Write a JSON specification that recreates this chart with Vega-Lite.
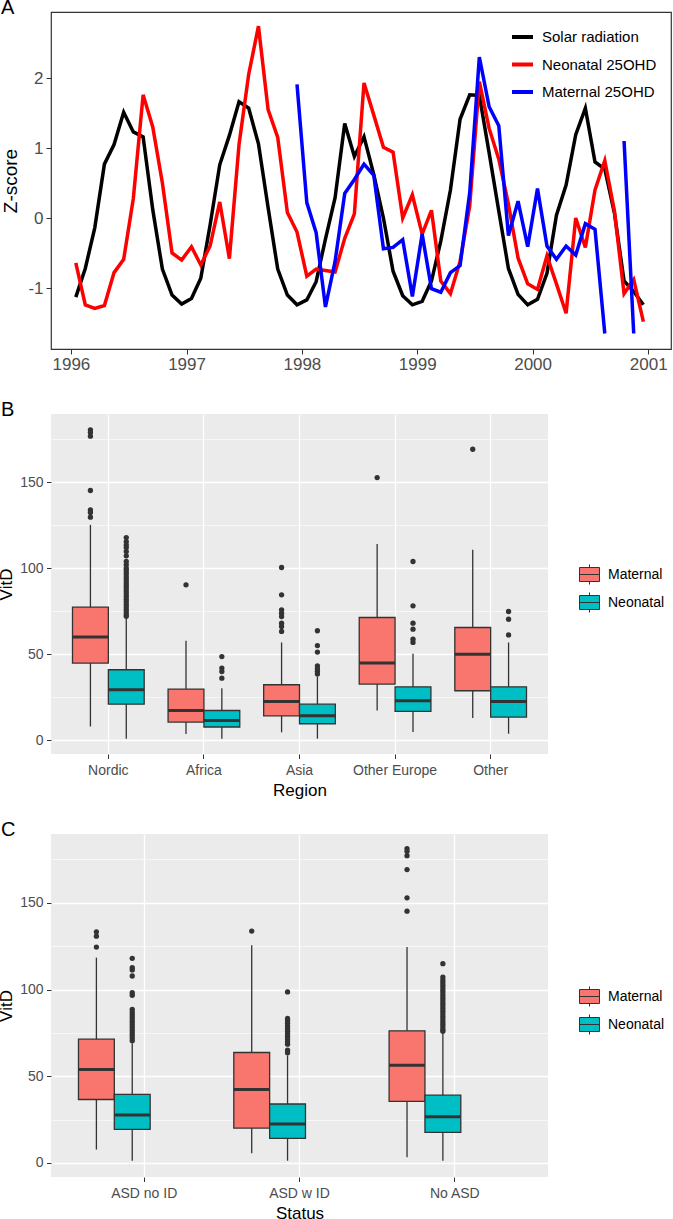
{
"$schema": "https://vega.github.io/schema/vega-lite/v6.json",
"padding": {"left": -3, "top": -3, "right": 0, "bottom": 0},
"spacing": 21,
"config": {
  "font": "Liberation Sans",
  "title": {"fontSize": 20, "fontWeight": "normal", "color": "#000000", "anchor": "start", "frame": "group"},
  "axis": {"labelColor": "#4D4D4D", "tickColor": "#333333", "titleColor": "#000000", "titleFontWeight": "normal", "domain": false}
},
"resolve": {"scale": {"color": "independent", "fill": "independent"}},
"datasets": {
  "A": [
    {"month":"1996-01","Solar radiation":-1.13,"Neonatal 25OHD":-0.64},
    {"month":"1996-02","Solar radiation":-0.72,"Neonatal 25OHD":-1.24},
    {"month":"1996-03","Solar radiation":-0.14,"Neonatal 25OHD":-1.29},
    {"month":"1996-04","Solar radiation":0.77,"Neonatal 25OHD":-1.25},
    {"month":"1996-05","Solar radiation":1.05,"Neonatal 25OHD":-0.78},
    {"month":"1996-06","Solar radiation":1.51,"Neonatal 25OHD":-0.59},
    {"month":"1996-07","Solar radiation":1.23,"Neonatal 25OHD":0.28},
    {"month":"1996-08","Solar radiation":1.16,"Neonatal 25OHD":1.76},
    {"month":"1996-09","Solar radiation":0.12,"Neonatal 25OHD":1.30},
    {"month":"1996-10","Solar radiation":-0.73,"Neonatal 25OHD":0.50},
    {"month":"1996-11","Solar radiation":-1.10,"Neonatal 25OHD":-0.50},
    {"month":"1996-12","Solar radiation":-1.23,"Neonatal 25OHD":-0.60},
    {"month":"1997-01","Solar radiation":-1.15,"Neonatal 25OHD":-0.41},
    {"month":"1997-02","Solar radiation":-0.86,"Neonatal 25OHD":-0.67},
    {"month":"1997-03","Solar radiation":-0.10,"Neonatal 25OHD":-0.40},
    {"month":"1997-04","Solar radiation":0.76,"Neonatal 25OHD":0.23},
    {"month":"1997-05","Solar radiation":1.18,"Neonatal 25OHD":-0.58},
    {"month":"1997-06","Solar radiation":1.66,"Neonatal 25OHD":1.05},
    {"month":"1997-07","Solar radiation":1.57,"Neonatal 25OHD":2.05},
    {"month":"1997-08","Solar radiation":1.06,"Neonatal 25OHD":2.74},
    {"month":"1997-09","Solar radiation":0.15,"Neonatal 25OHD":1.55},
    {"month":"1997-10","Solar radiation":-0.73,"Neonatal 25OHD":1.15},
    {"month":"1997-11","Solar radiation":-1.10,"Neonatal 25OHD":0.08},
    {"month":"1997-12","Solar radiation":-1.24,"Neonatal 25OHD":-0.20,"Maternal 25OHD":1.91},
    {"month":"1998-01","Solar radiation":-1.17,"Neonatal 25OHD":-0.83,"Maternal 25OHD":0.22},
    {"month":"1998-02","Solar radiation":-0.91,"Neonatal 25OHD":-0.73,"Maternal 25OHD":-0.21},
    {"month":"1998-03","Solar radiation":-0.30,"Neonatal 25OHD":-0.75,"Maternal 25OHD":-1.27},
    {"month":"1998-04","Solar radiation":0.29,"Neonatal 25OHD":-0.77,"Maternal 25OHD":-0.62},
    {"month":"1998-05","Solar radiation":1.35,"Neonatal 25OHD":-0.29,"Maternal 25OHD":0.35},
    {"month":"1998-06","Solar radiation":0.88,"Neonatal 25OHD":0.06,"Maternal 25OHD":0.55},
    {"month":"1998-07","Solar radiation":1.16,"Neonatal 25OHD":1.93,"Maternal 25OHD":0.77},
    {"month":"1998-08","Solar radiation":0.62,"Neonatal 25OHD":1.47,"Maternal 25OHD":0.61},
    {"month":"1998-09","Solar radiation":0.00,"Neonatal 25OHD":1.01,"Maternal 25OHD":-0.44},
    {"month":"1998-10","Solar radiation":-0.76,"Neonatal 25OHD":0.94,"Maternal 25OHD":-0.42},
    {"month":"1998-11","Solar radiation":-1.11,"Neonatal 25OHD":0.00,"Maternal 25OHD":-0.31},
    {"month":"1998-12","Solar radiation":-1.24,"Neonatal 25OHD":0.33,"Maternal 25OHD":-1.12},
    {"month":"1999-01","Solar radiation":-1.19,"Neonatal 25OHD":-0.23,"Maternal 25OHD":-0.23},
    {"month":"1999-02","Solar radiation":-0.90,"Neonatal 25OHD":0.11,"Maternal 25OHD":-1.01},
    {"month":"1999-03","Solar radiation":-0.33,"Neonatal 25OHD":-0.90,"Maternal 25OHD":-1.06},
    {"month":"1999-04","Solar radiation":0.40,"Neonatal 25OHD":-1.08,"Maternal 25OHD":-0.78},
    {"month":"1999-05","Solar radiation":1.41,"Neonatal 25OHD":-0.62,"Maternal 25OHD":-0.68},
    {"month":"1999-06","Solar radiation":1.76,"Neonatal 25OHD":0.17,"Maternal 25OHD":0.36},
    {"month":"1999-07","Solar radiation":1.75,"Neonatal 25OHD":1.95,"Maternal 25OHD":2.30},
    {"month":"1999-08","Solar radiation":0.93,"Neonatal 25OHD":1.28,"Maternal 25OHD":1.59},
    {"month":"1999-09","Solar radiation":0.10,"Neonatal 25OHD":0.84,"Maternal 25OHD":1.32},
    {"month":"1999-10","Solar radiation":-0.72,"Neonatal 25OHD":0.20,"Maternal 25OHD":-0.25},
    {"month":"1999-11","Solar radiation":-1.09,"Neonatal 25OHD":-0.57,"Maternal 25OHD":0.24},
    {"month":"1999-12","Solar radiation":-1.24,"Neonatal 25OHD":-0.94,"Maternal 25OHD":-0.41},
    {"month":"2000-01","Solar radiation":-1.16,"Neonatal 25OHD":-1.02,"Maternal 25OHD":0.42},
    {"month":"2000-02","Solar radiation":-0.79,"Neonatal 25OHD":-0.54,"Maternal 25OHD":-0.40},
    {"month":"2000-03","Solar radiation":0.04,"Neonatal 25OHD":-0.94,"Maternal 25OHD":-0.59},
    {"month":"2000-04","Solar radiation":0.47,"Neonatal 25OHD":-1.36,"Maternal 25OHD":-0.40},
    {"month":"2000-05","Solar radiation":1.19,"Neonatal 25OHD":0.00,"Maternal 25OHD":-0.53},
    {"month":"2000-06","Solar radiation":1.57,"Neonatal 25OHD":-0.42,"Maternal 25OHD":-0.08},
    {"month":"2000-07","Solar radiation":0.80,"Neonatal 25OHD":0.40,"Maternal 25OHD":-0.16},
    {"month":"2000-08","Solar radiation":0.70,"Neonatal 25OHD":0.82,"Maternal 25OHD":-1.65},
    {"month":"2000-09","Solar radiation":0.07,"Neonatal 25OHD":0.10,"Maternal 25OHD":null},
    {"month":"2000-10","Solar radiation":-0.90,"Neonatal 25OHD":-1.08,"Maternal 25OHD":1.10},
    {"month":"2000-11","Solar radiation":-1.05,"Neonatal 25OHD":-0.88,"Maternal 25OHD":-1.65},
    {"month":"2000-12","Solar radiation":-1.24,"Neonatal 25OHD":-1.48,"Maternal 25OHD":null}
  ],
  "Bstats": [
    {"group":"Nordic","type":"Maternal","lower":7.9,"q1":44.8,"median":59.9,"q3":77.3,"upper":125.2},
    {"group":"Nordic","type":"Neonatal","lower":0.8,"q1":20.9,"median":29.3,"q3":40.9,"upper":71.0},
    {"group":"Africa","type":"Maternal","lower":3.5,"q1":10.5,"median":17.2,"q3":29.7,"upper":57.8},
    {"group":"Africa","type":"Neonatal","lower":0.8,"q1":7.6,"median":11.4,"q3":17.2,"upper":30.2},
    {"group":"Asia","type":"Maternal","lower":4.5,"q1":14.1,"median":22.5,"q3":32.2,"upper":56.8},
    {"group":"Asia","type":"Neonatal","lower":0.8,"q1":9.5,"median":14.1,"q3":20.9,"upper":37.0},
    {"group":"Other Europe","type":"Maternal","lower":17.2,"q1":32.6,"median":44.8,"q3":71.3,"upper":114.1},
    {"group":"Other Europe","type":"Neonatal","lower":4.7,"q1":16.7,"median":22.9,"q3":31.0,"upper":50.2},
    {"group":"Other","type":"Maternal","lower":12.8,"q1":28.7,"median":50.0,"q3":65.5,"upper":110.7},
    {"group":"Other","type":"Neonatal","lower":3.7,"q1":13.4,"median":22.5,"q3":31.0,"upper":56.8}
  ],
  "Bout": [
    {"group":"Nordic","type":"Maternal","value":180.5},{"group":"Nordic","type":"Maternal","value":179.0},{"group":"Nordic","type":"Maternal","value":176.8},{"group":"Nordic","type":"Maternal","value":145.2},{"group":"Nordic","type":"Maternal","value":133.9},{"group":"Nordic","type":"Maternal","value":132.4},{"group":"Nordic","type":"Maternal","value":129.7},
    {"group":"Nordic","type":"Neonatal","value":117.8},{"group":"Nordic","type":"Neonatal","value":115.5},{"group":"Nordic","type":"Neonatal","value":113.6},{"group":"Nordic","type":"Neonatal","value":112.0},{"group":"Nordic","type":"Neonatal","value":109.7},{"group":"Nordic","type":"Neonatal","value":107.2},{"group":"Nordic","type":"Neonatal","value":104.0},{"group":"Nordic","type":"Neonatal","value":102.0},{"group":"Nordic","type":"Neonatal","value":100.0},{"group":"Nordic","type":"Neonatal","value":98.5},{"group":"Nordic","type":"Neonatal","value":97.0},{"group":"Nordic","type":"Neonatal","value":95.5},{"group":"Nordic","type":"Neonatal","value":94.0},{"group":"Nordic","type":"Neonatal","value":92.5},{"group":"Nordic","type":"Neonatal","value":91.0},{"group":"Nordic","type":"Neonatal","value":89.5},{"group":"Nordic","type":"Neonatal","value":88.0},{"group":"Nordic","type":"Neonatal","value":86.5},{"group":"Nordic","type":"Neonatal","value":85.0},{"group":"Nordic","type":"Neonatal","value":83.5},{"group":"Nordic","type":"Neonatal","value":82.0},{"group":"Nordic","type":"Neonatal","value":80.5},{"group":"Nordic","type":"Neonatal","value":79.0},{"group":"Nordic","type":"Neonatal","value":77.5},{"group":"Nordic","type":"Neonatal","value":76.0},{"group":"Nordic","type":"Neonatal","value":74.5},{"group":"Nordic","type":"Neonatal","value":73.0},{"group":"Nordic","type":"Neonatal","value":72.0},
    {"group":"Africa","type":"Maternal","value":90.3},
    {"group":"Africa","type":"Neonatal","value":48.6},{"group":"Africa","type":"Neonatal","value":41.9},{"group":"Africa","type":"Neonatal","value":39.9},{"group":"Africa","type":"Neonatal","value":36.0},
    {"group":"Asia","type":"Maternal","value":100.4},{"group":"Asia","type":"Maternal","value":84.5},{"group":"Asia","type":"Maternal","value":75.8},{"group":"Asia","type":"Maternal","value":73.8},{"group":"Asia","type":"Maternal","value":71.9},{"group":"Asia","type":"Maternal","value":68.0},{"group":"Asia","type":"Maternal","value":66.1},{"group":"Asia","type":"Maternal","value":63.2},
    {"group":"Asia","type":"Neonatal","value":63.6},{"group":"Asia","type":"Neonatal","value":55.0},{"group":"Asia","type":"Neonatal","value":51.2},{"group":"Asia","type":"Neonatal","value":43.2},{"group":"Asia","type":"Neonatal","value":41.5},{"group":"Asia","type":"Neonatal","value":40.0},{"group":"Asia","type":"Neonatal","value":38.5},
    {"group":"Other Europe","type":"Maternal","value":152.7},
    {"group":"Other Europe","type":"Neonatal","value":103.9},{"group":"Other Europe","type":"Neonatal","value":78.1},{"group":"Other Europe","type":"Neonatal","value":68.0},{"group":"Other Europe","type":"Neonatal","value":64.5},{"group":"Other Europe","type":"Neonatal","value":58.7},{"group":"Other Europe","type":"Neonatal","value":56.8},
    {"group":"Other","type":"Maternal","value":169.2},
    {"group":"Other","type":"Neonatal","value":74.8},{"group":"Other","type":"Neonatal","value":70.3},{"group":"Other","type":"Neonatal","value":61.2}
  ],
  "Cstats": [
    {"group":"ASD no ID","type":"Maternal","lower":7.7,"q1":36.6,"median":53.9,"q3":71.4,"upper":118.4},
    {"group":"ASD no ID","type":"Neonatal","lower":1.3,"q1":19.4,"median":27.6,"q3":39.5,"upper":69.0},
    {"group":"ASD w ID","type":"Maternal","lower":5.6,"q1":20.1,"median":42.4,"q3":63.7,"upper":125.5},
    {"group":"ASD w ID","type":"Neonatal","lower":1.3,"q1":14.2,"median":22.4,"q3":34.0,"upper":62.0},
    {"group":"No ASD","type":"Maternal","lower":3.3,"q1":35.5,"median":56.4,"q3":76.2,"upper":124.5},
    {"group":"No ASD","type":"Neonatal","lower":1.3,"q1":17.6,"median":26.7,"q3":39.1,"upper":75.2}
  ],
  "Cout": [
    {"group":"ASD no ID","type":"Maternal","value":133.3},{"group":"ASD no ID","type":"Maternal","value":130.8},{"group":"ASD no ID","type":"Maternal","value":124.5},
    {"group":"ASD no ID","type":"Neonatal","value":118.0},{"group":"ASD no ID","type":"Neonatal","value":112.6},{"group":"ASD no ID","type":"Neonatal","value":111.3},{"group":"ASD no ID","type":"Neonatal","value":107.8},{"group":"ASD no ID","type":"Neonatal","value":98.2},{"group":"ASD no ID","type":"Neonatal","value":96.7},{"group":"ASD no ID","type":"Neonatal","value":88.6},{"group":"ASD no ID","type":"Neonatal","value":87.0},{"group":"ASD no ID","type":"Neonatal","value":85.5},{"group":"ASD no ID","type":"Neonatal","value":84.0},{"group":"ASD no ID","type":"Neonatal","value":82.5},{"group":"ASD no ID","type":"Neonatal","value":81.0},{"group":"ASD no ID","type":"Neonatal","value":79.5},{"group":"ASD no ID","type":"Neonatal","value":78.0},{"group":"ASD no ID","type":"Neonatal","value":76.5},{"group":"ASD no ID","type":"Neonatal","value":75.0},{"group":"ASD no ID","type":"Neonatal","value":73.5},{"group":"ASD no ID","type":"Neonatal","value":72.0},{"group":"ASD no ID","type":"Neonatal","value":70.5},
    {"group":"ASD w ID","type":"Maternal","value":133.7},
    {"group":"ASD w ID","type":"Neonatal","value":98.6},{"group":"ASD w ID","type":"Neonatal","value":83.3},{"group":"ASD w ID","type":"Neonatal","value":82.0},{"group":"ASD w ID","type":"Neonatal","value":80.5},{"group":"ASD w ID","type":"Neonatal","value":79.0},{"group":"ASD w ID","type":"Neonatal","value":77.5},{"group":"ASD w ID","type":"Neonatal","value":76.0},{"group":"ASD w ID","type":"Neonatal","value":74.5},{"group":"ASD w ID","type":"Neonatal","value":73.0},{"group":"ASD w ID","type":"Neonatal","value":71.5},{"group":"ASD w ID","type":"Neonatal","value":70.0},{"group":"ASD w ID","type":"Neonatal","value":68.5},{"group":"ASD w ID","type":"Neonatal","value":65.0},{"group":"ASD w ID","type":"Neonatal","value":63.5},
    {"group":"No ASD","type":"Maternal","value":181.3},{"group":"No ASD","type":"Maternal","value":179.7},{"group":"No ASD","type":"Maternal","value":177.2},{"group":"No ASD","type":"Maternal","value":169.2},{"group":"No ASD","type":"Maternal","value":152.9},{"group":"No ASD","type":"Maternal","value":145.2},
    {"group":"No ASD","type":"Neonatal","value":114.9},{"group":"No ASD","type":"Neonatal","value":107.2},{"group":"No ASD","type":"Neonatal","value":105.5},{"group":"No ASD","type":"Neonatal","value":104.0},{"group":"No ASD","type":"Neonatal","value":102.5},{"group":"No ASD","type":"Neonatal","value":101.0},{"group":"No ASD","type":"Neonatal","value":99.5},{"group":"No ASD","type":"Neonatal","value":98.0},{"group":"No ASD","type":"Neonatal","value":96.5},{"group":"No ASD","type":"Neonatal","value":95.0},{"group":"No ASD","type":"Neonatal","value":93.5},{"group":"No ASD","type":"Neonatal","value":92.0},{"group":"No ASD","type":"Neonatal","value":90.5},{"group":"No ASD","type":"Neonatal","value":89.0},{"group":"No ASD","type":"Neonatal","value":87.5},{"group":"No ASD","type":"Neonatal","value":86.0},{"group":"No ASD","type":"Neonatal","value":84.5},{"group":"No ASD","type":"Neonatal","value":83.0},{"group":"No ASD","type":"Neonatal","value":81.5},{"group":"No ASD","type":"Neonatal","value":80.0},{"group":"No ASD","type":"Neonatal","value":78.5},{"group":"No ASD","type":"Neonatal","value":77.0},{"group":"No ASD","type":"Neonatal","value":76.0}
  ]
},
"vconcat": [
  {
    "width": 620, "height": 337,
    "view": {"stroke": "#333333", "strokeWidth": 1.2, "fill": "#FFFFFF"},
    "title": {"text": "A", "dx": -50, "dy": 22, "offset": 0, "baseline": "alphabetic"},
    "data": {"name": "A"},
    "transform": [{"fold": ["Solar radiation", "Neonatal 25OHD", "Maternal 25OHD"], "as": ["series", "z"]}],
    "mark": {"type": "line", "strokeWidth": 3.5, "invalid": "break-paths-show-domains"},
    "encoding": {
      "x": {"field": "month", "type": "temporal", "timeUnit": "utcyearmonth", "bandPosition": 0.5,
        "scale": {"domain": [{"year": 1995, "month": 10, "date": 30, "utc": true}, {"year": 2001, "month": 3, "date": 14, "utc": true}]},
        "axis": {"values": [{"year": 1996, "utc": true}, {"year": 1997, "utc": true}, {"year": 1998, "utc": true}, {"year": 1999, "utc": true}, {"year": 2000, "utc": true}, {"year": 2001, "utc": true}],
          "format": "%Y", "labelFontSize": 17, "tickSize": 5, "labelPadding": 2, "title": " ", "titleFontSize": 4, "titlePadding": 2, "grid": false}},
      "y": {"field": "z", "type": "quantitative", "scale": {"domain": [-1.871, 2.943], "nice": false, "zero": false},
        "axis": {"values": [-1, 0, 1, 2], "labelExpr": "replace(datum.label, '−', '-')", "labelFontSize": 17, "tickSize": 5, "labelPadding": 3, "title": "Z-score", "titleFontSize": 19, "titlePadding": 7, "grid": false}},
      "color": {"field": "series", "type": "nominal",
        "scale": {"domain": ["Solar radiation", "Neonatal 25OHD", "Maternal 25OHD"], "range": ["#000000", "#FF0000", "#0000FF"]},
        "legend": {"title": null, "orient": "none", "legendX": 459, "legendY": 12.5, "symbolType": "stroke", "symbolSize": 441, "symbolStrokeWidth": 4, "labelFontSize": 15, "labelColor": "#000000", "labelOffset": 7, "rowPadding": 6.5, "padding": 0}}
    }
  },
  {
    "width": 497, "height": 340,
    "view": {"fill": "#EBEBEB", "stroke": null},
    "title": {"text": "B", "dx": -50, "dy": 22, "offset": 0, "baseline": "alphabetic"},
    "resolve": {"axis": {"y": "independent"}},
    "encoding": {
      "x": {"field": "group", "type": "nominal", "scale": {"domain": ["Nordic", "Africa", "Asia", "Other Europe", "Other"], "paddingInner": 0, "paddingOuter": 0.1},
        "axis": {"title": "Region", "titleFontSize": 17, "titlePadding": 5, "labelFontSize": 14, "labelAngle": 0, "tickSize": 4.5, "labelPadding": 5, "grid": true, "gridColor": "#FFFFFF", "gridWidth": 1.3, "bandPosition": 0.5}},
      "xOffset": {"field": "type", "type": "nominal", "scale": {"domain": ["Maternal", "Neonatal"], "paddingInner": 0, "paddingOuter": 0.3333}}
    },
    "layer": [
      {"data": {"name": "Bstats"}, "mark": {"type": "rule", "stroke": "#333333", "strokeWidth": 1.3},
        "encoding": {"y": {"field": "lower", "type": "quantitative", "scale": {"domain": [-8.1, 189.7], "nice": false, "zero": false},
          "axis": {"values": [0, 50, 100, 150], "title": "VitD", "titleFontSize": 17, "titlePadding": 4, "labelFontSize": 14, "tickSize": 4.5, "labelPadding": 3.5, "grid": true, "gridColor": "#FFFFFF", "gridWidth": 1.3}},
          "y2": {"field": "upper"}}},
      {"data": {"name": "Bstats"}, "mark": {"type": "bar", "stroke": "#333333", "strokeWidth": 1.3},
        "encoding": {"y": {"field": "q1", "type": "quantitative", "scale": {"domain": [-8.1, 189.7], "nice": false, "zero": false},
          "axis": {"values": [25, 75, 125, 175], "labels": false, "ticks": false, "domain": false, "grid": true, "gridColor": "#FFFFFF", "gridWidth": 0.6, "title": null}},
          "y2": {"field": "q3"},
          "fill": {"field": "type", "type": "nominal", "scale": {"domain": ["Maternal", "Neonatal"], "range": ["#F8766D", "#00BFC4"]},
            "legend": {"title": null, "orient": "none", "legendX": 528, "legendY": 150, "symbolType": "M-1,-0.7H1V0.7H-1Z M-1,0H1 M0,-1V-0.7 M0,0.7V1", "symbolSize": 400, "symbolStrokeColor": "#333333", "symbolStrokeWidth": 1, "labelFontSize": 14, "labelColor": "#000000", "labelOffset": 8, "rowPadding": 3, "padding": 0}}}},
      {"data": {"name": "Bstats"}, "mark": {"type": "bar", "stroke": "#333333", "strokeWidth": 3, "fill": "transparent", "strokeJoin": "bevel"},
        "encoding": {"y": {"field": "median", "type": "quantitative", "scale": {"domain": [-8.1, 189.7], "nice": false, "zero": false}, "axis": null},
          "y2": {"field": "median"}}},
      {"data": {"name": "Bout"}, "mark": {"type": "circle", "size": 28, "color": "#333333", "opacity": 1},
        "encoding": {"y": {"field": "value", "type": "quantitative", "scale": {"domain": [-8.1, 189.7], "nice": false, "zero": false}, "axis": null}}}
    ]
  },
  {
    "width": 497, "height": 343,
    "view": {"fill": "#EBEBEB", "stroke": null},
    "title": {"text": "C", "dx": -50, "dy": 22, "offset": 0, "baseline": "alphabetic"},
    "resolve": {"axis": {"y": "independent"}},
    "encoding": {
      "x": {"field": "group", "type": "nominal", "scale": {"domain": ["ASD no ID", "ASD w ID", "No ASD"], "paddingInner": 0, "paddingOuter": 0.1},
        "axis": {"title": "Status", "titleFontSize": 17, "titlePadding": 5, "labelFontSize": 14, "labelAngle": 0, "tickSize": 4.5, "labelPadding": 5, "grid": true, "gridColor": "#FFFFFF", "gridWidth": 1.3, "bandPosition": 0.5}},
      "xOffset": {"field": "type", "type": "nominal", "scale": {"domain": ["Maternal", "Neonatal"], "paddingInner": 0, "paddingOuter": 0.3333}}
    },
    "layer": [
      {"data": {"name": "Cstats"}, "mark": {"type": "rule", "stroke": "#333333", "strokeWidth": 1.3},
        "encoding": {"y": {"field": "lower", "type": "quantitative", "scale": {"domain": [-8.1, 189.7], "nice": false, "zero": false},
          "axis": {"values": [0, 50, 100, 150], "title": "VitD", "titleFontSize": 17, "titlePadding": 4, "labelFontSize": 14, "tickSize": 4.5, "labelPadding": 3.5, "grid": true, "gridColor": "#FFFFFF", "gridWidth": 1.3}},
          "y2": {"field": "upper"}}},
      {"data": {"name": "Cstats"}, "mark": {"type": "bar", "stroke": "#333333", "strokeWidth": 1.3},
        "encoding": {"y": {"field": "q1", "type": "quantitative", "scale": {"domain": [-8.1, 189.7], "nice": false, "zero": false},
          "axis": {"values": [25, 75, 125, 175], "labels": false, "ticks": false, "domain": false, "grid": true, "gridColor": "#FFFFFF", "gridWidth": 0.6, "title": null}},
          "y2": {"field": "q3"},
          "fill": {"field": "type", "type": "nominal", "scale": {"domain": ["Maternal", "Neonatal"], "range": ["#F8766D", "#00BFC4"]},
            "legend": {"title": null, "orient": "none", "legendX": 528, "legendY": 152, "symbolType": "M-1,-0.7H1V0.7H-1Z M-1,0H1 M0,-1V-0.7 M0,0.7V1", "symbolSize": 400, "symbolStrokeColor": "#333333", "symbolStrokeWidth": 1, "labelFontSize": 14, "labelColor": "#000000", "labelOffset": 8, "rowPadding": 3, "padding": 0}}}},
      {"data": {"name": "Cstats"}, "mark": {"type": "bar", "stroke": "#333333", "strokeWidth": 3, "fill": "transparent", "strokeJoin": "bevel"},
        "encoding": {"y": {"field": "median", "type": "quantitative", "scale": {"domain": [-8.1, 189.7], "nice": false, "zero": false}, "axis": null},
          "y2": {"field": "median"}}},
      {"data": {"name": "Cout"}, "mark": {"type": "circle", "size": 28, "color": "#333333", "opacity": 1},
        "encoding": {"y": {"field": "value", "type": "quantitative", "scale": {"domain": [-8.1, 189.7], "nice": false, "zero": false}, "axis": null}}}
    ]
  }
]
}
